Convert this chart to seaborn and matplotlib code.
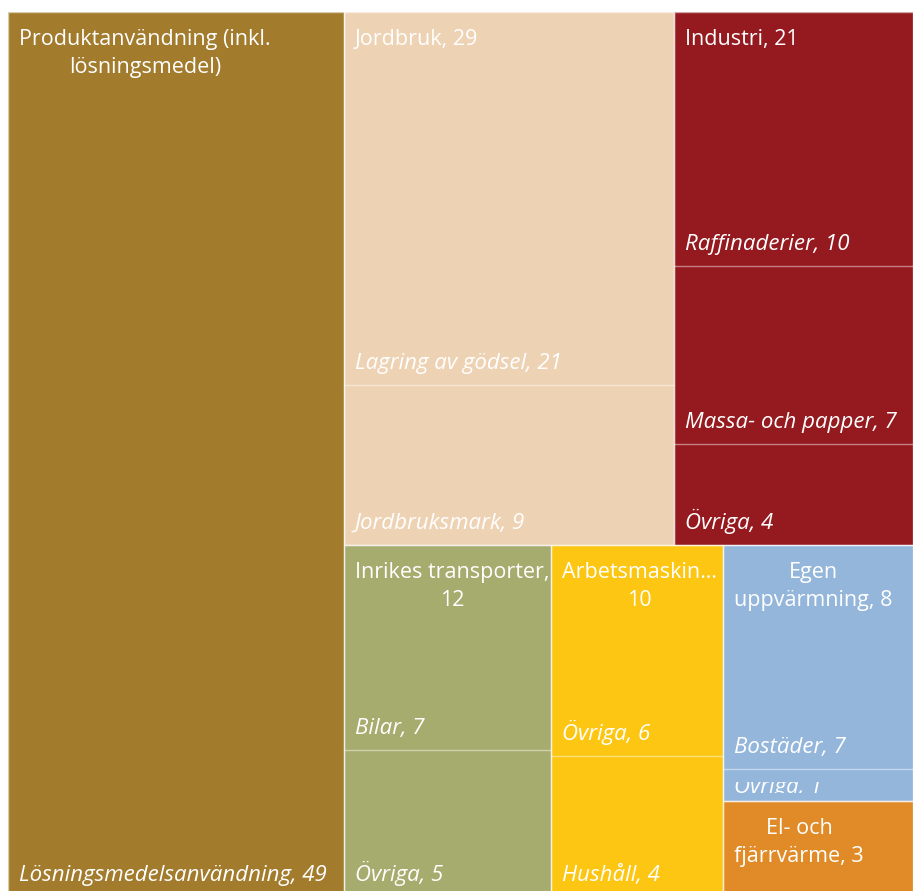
import matplotlib
matplotlib.use("Agg")
import matplotlib.pyplot as plt
from matplotlib.patches import Rectangle
from matplotlib.transforms import Bbox
import seaborn as sns

# Emissions by sector and sub-sector
sectors = ["Produktanvändning (inkl. lösningsmedel)", "Jordbruk", "Industri",
           "Inrikes transporter", "Arbetsmaskiner", "Egen uppvärmning",
           "El- och fjärrvärme"]
sector_values = [49, 29, 21, 12, 10, 8, 3]
sector_labels = ["Produktanvändning (inkl.\nlösningsmedel)", "Jordbruk, 29",
                 "Industri, 21", "Inrikes transporter,\n12", "Arbetsmaskin…\n10",
                 "Egen\nuppvärmning, 8", "El- och\nfjärrvärme, 3"]
sector_colors = ["#A27B2D", "#EED2B4", "#951A1F", "#A6AB6E", "#FCC612",
                 "#94B6DB", "#E08B27"]

sub_names = [["Lösningsmedelsanvändning"],
             ["Lagring av gödsel", "Jordbruksmark"],
             ["Raffinaderier", "Massa- och papper", "Övriga"],
             ["Bilar", "Övriga"],
             ["Övriga", "Hushåll"],
             ["Bostäder", "Övriga"],
             []]
sub_values = [[49], [21, 9], [10, 7, 4], [7, 5], [6, 4], [7, 1], []]

W, H = 905.0, 885.0


def split(x, y, w, h, values, horizontal):
    """Slice a rectangle into parts proportional to values."""
    tot = float(sum(values))
    out = []
    pos = x if horizontal else y
    for v in values:
        if horizontal:
            ww = w * v / tot
            out.append((pos, y, ww, h))
            pos += ww
        else:
            hh = h * v / tot
            out.append((x, pos, w, hh))
            pos += hh
    return out


# Sector layout: first sector as a full-height column, the rest in two rows
total = sum(sector_values)
left = split(0, 0, W, H, [sector_values[0], total - sector_values[0]], True)
rects = [left[0]]
rx, ry, rw, rh = left[1]
top_vals = sector_values[1:3]
bot_vals = sector_values[3:]
rows = split(rx, ry, rw, rh, [sum(top_vals), sum(bot_vals)], False)
rects += split(*rows[0], top_vals, True)
cols = split(*rows[1], [bot_vals[0], bot_vals[1], bot_vals[2] + bot_vals[3]], True)
rects += cols[:2]
rects += split(*cols[2], bot_vals[2:], False)

sns.set_theme(style="white")
plt.rcParams["font.family"] = ["Open Sans", "DejaVu Sans"]

fig = plt.figure(figsize=(9.13, 8.91), dpi=100)
ax = fig.add_axes([8 / 913, -6 / 891, W / 913, H / 891])
ax.set_xlim(0, W)
ax.set_ylim(H, 0)
ax.axis("off")

fs_parent = 15.5
fs_child = 16
for i, (x, y, w, h) in enumerate(rects):
    ax.bar(x, h, width=w, bottom=y, align="edge", color=sector_colors[i],
           edgecolor="none", linewidth=0, zorder=1)
    # sub-sector cells, labelled at their lower left corner
    subs = split(x, y, w, h, sub_values[i], False) if sub_values[i] else []
    for j, (sx, sy, sw, sh) in enumerate(subs):
        if j > 0:
            ax.plot([sx, sx + sw], [sy, sy], color=(1, 1, 1, 0.45), lw=1, zorder=2)
        small = sh <= 40
        base = sy + sh - (8 if small else 16)
        t = ax.text(sx + 11, base, f"{sub_names[i][j]}, {sub_values[i][j]}",
                    ha="left", va="baseline", color="white", fontsize=fs_child,
                    fontstyle="italic", zorder=4)
        # keep the label inside its cell (minus padding)
        top_pad = 13 if small else 8
        pts = ax.transData.transform([[sx, sy + top_pad], [sx + sw, sy + sh - 8]])
        t.set_clip_box(Bbox.from_extents(pts[:, 0].min(), pts[:, 1].min(),
                                         pts[:, 0].max(), pts[:, 1].max()))
        t.set_clip_on(True)
    ax.text(x + 11, y + 17, sector_labels[i], ha="left", va="top",
            multialignment="center", color="white", fontsize=fs_parent,
            linespacing=1.45, zorder=4)

# thin light borders between sectors
for (x, y, w, h) in rects:
    ax.add_patch(Rectangle((x, y), w, h, fill=False, edgecolor=(1, 1, 1, 0.6),
                           lw=1, zorder=3))

fig.savefig("out.png", dpi=100, facecolor="white")
